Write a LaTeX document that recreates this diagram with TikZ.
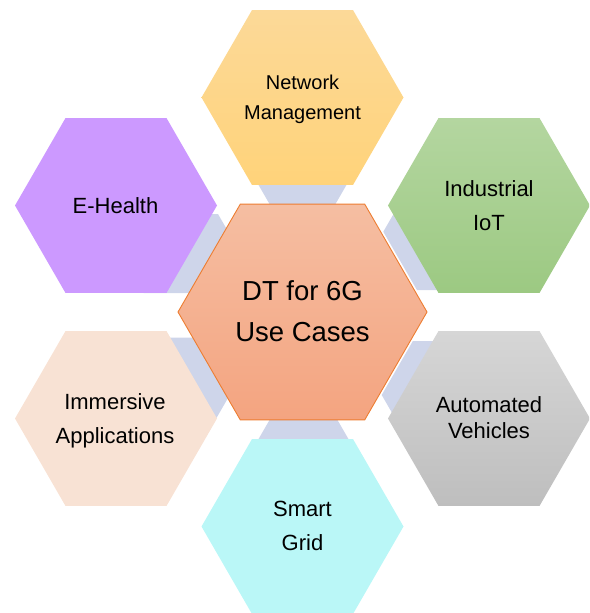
\documentclass[tikz,border=0pt]{standalone}
\usepackage{fontspec}
\setmainfont{Liberation Sans}
\usetikzlibrary{shapes.geometric}
\definecolor{conncol}{RGB}{206,213,234}
\definecolor{nmtop}{RGB}{252,217,152}
\definecolor{nmbot}{RGB}{255,211,122}
\definecolor{iottop}{RGB}{180,214,160}
\definecolor{iotbot}{RGB}{156,201,130}
\definecolor{avtop}{RGB}{214,214,214}
\definecolor{avbot}{RGB}{190,190,190}
\definecolor{sgcol}{RGB}{186,247,247}
\definecolor{imcol}{RGB}{248,226,212}
\definecolor{ehcol}{RGB}{204,153,255}
\definecolor{ctop}{RGB}{245,190,162}
\definecolor{cbot}{RGB}{244,164,128}
\definecolor{cline}{RGB}{237,125,49}
% cx cy w h : flat-top hexagon used as a connector band
\newcommand\conhex[4]{%
  \fill[connband] ({#1-#3},{#2}) -- ({#1-#3+#4*0.57735},{#2-#4}) -- ({#1+#3-#4*0.57735},{#2-#4}) -- ({#1+#3},{#2}) -- ({#1+#3-#4*0.57735},{#2+#4}) -- ({#1-#3+#4*0.57735},{#2+#4}) -- cycle;}
\begin{document}
\begin{tikzpicture}[x=1pt,y=-1pt,
  connband/.style={fill=conncol},
  outerhex/.style={regular polygon, regular polygon sides=6, minimum size=202pt, inner sep=0pt, outer sep=0pt, draw=none},
  centerhex/.style={regular polygon, regular polygon sides=6, minimum size=249pt, inner sep=0pt, outer sep=0pt, draw=cline, line width=0.9pt, top color=ctop, bottom color=cbot},
  lbl/.style={anchor=base, inner sep=0pt, font=\fontsize{22}{26}\selectfont},
  lblsmall/.style={anchor=base, inner sep=0pt, font=\fontsize{20}{24}\selectfont},
  lblbig/.style={anchor=base, inner sep=0pt, font=\fontsize{27.5}{32}\selectfont}]
\useasboundingbox (0,0) rectangle (589,613);
\begin{scope}
\clip (0,0) rectangle (589,613);
% connector bands
\conhex{302.5}{165}{55.5}{50}
\conhex{303.5}{459}{56.5}{50}
\conhex{180.8}{253.5}{60}{39.5}
\conhex{158}{398}{70}{60.3}
\conhex{451.7}{395}{70}{54}
\conhex{453.3}{231.7}{70}{58.3}
% outer hexagons
\node[outerhex, top color=nmtop, bottom color=nmbot] (nm) at (302.5,97.5) {};
\node[outerhex, top color=iottop, bottom color=iotbot] (iot) at (489,205.5) {};
\node[outerhex, top color=avtop, bottom color=avbot] (av) at (489,418.5) {};
\node[outerhex, fill=sgcol] (sg) at (302.5,526.5) {};
\node[outerhex, fill=imcol] (im) at (116,418.5) {};
\node[outerhex, fill=ehcol] (eh) at (116,205.5) {};
% center hexagon
\node[centerhex] (c) at (302.5,312) {};
\end{scope}
% labels
\node[lblsmall] (nm1) at (302.5,89.3) {Network};
\node[lblsmall] (nm2) at (302.5,119) {Management};
\node[lbl] (iot1) at (489,196.7) {Industrial};
\node[lbl] (iot2) at (489,230) {IoT};
\node[lbl] (eh1) at (115.5,213.3) {E-Health};
\node[lbl] (im1) at (115,409.3) {Immersive};
\node[lbl] (im2) at (115,443.3) {Applications};
\node[lbl] (av1) at (489,412.7) {Automated};
\node[lbl] (av2) at (489,438.3) {Vehicles};
\node[lbl] (sg1) at (302.5,516.7) {Smart};
\node[lbl] (sg2) at (302.5,550) {Grid};
\node[lblbig] (c1) at (302.5,300) {DT for 6G};
\node[lblbig] (c2) at (302.5,341) {Use Cases};
\end{tikzpicture}
\end{document}
